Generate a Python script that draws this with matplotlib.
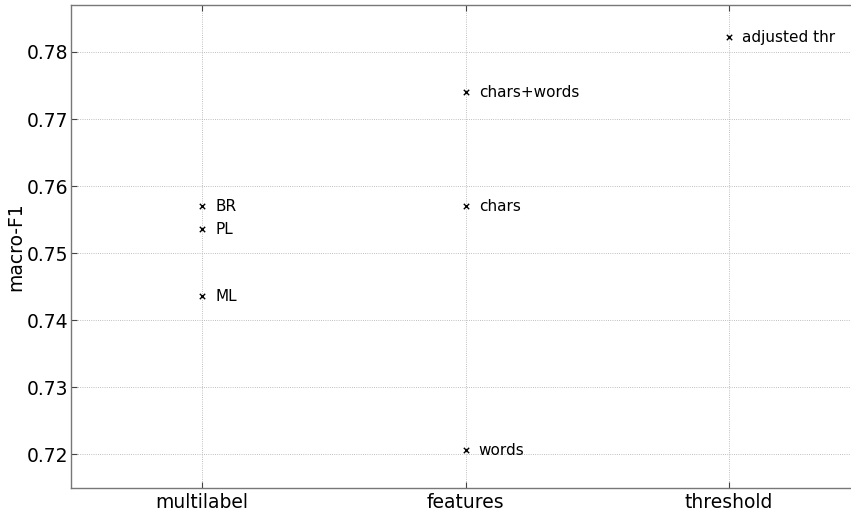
import matplotlib
matplotlib.use('Agg')
from matplotlib import pyplot as plt

# experiment groups on the x axis
groups = ['multilabel', 'features', 'threshold']

# (group, label, macro-F1) for every run
run_groups = ['multilabel', 'multilabel', 'multilabel',
              'features', 'features', 'features',
              'threshold']
run_labels = ['BR', 'PL', 'ML', 'chars+words', 'chars', 'words', 'adjusted thr']
run_scores = [0.757, 0.7536, 0.7436, 0.774, 0.757, 0.7206, 0.7822]


def main():
    fig = plt.figure(figsize=(8.51, 5.11), dpi=100)
    ax = fig.add_axes([70.5 / 851, 23 / 511, 790 / 851, 483 / 511])

    xs = [groups.index(g) for g in run_groups]
    ax.scatter(xs, run_scores, marker='x', s=15, c='black', linewidths=1.0, zorder=3)
    for x, y, name in zip(xs, run_scores, run_labels):
        ax.annotate(name, (x, y), xytext=(9.5, 0), textcoords='offset points',
                    va='center', ha='left', fontsize=11)

    ax.set_xlim(-0.5, 2.5)
    ax.set_ylim(0.715, 0.787)
    ax.set_xticks(range(len(groups)))
    ax.set_xticklabels(groups)
    ax.set_yticks([0.72, 0.73, 0.74, 0.75, 0.76, 0.77, 0.78])
    ax.set_ylabel('macro-F1', fontsize=13.5, labelpad=1)

    ax.tick_params(direction='in', length=4, top=True, right=True, labelsize=13.5,
                   color='#444444')
    ax.tick_params(axis='y', pad=1.5)
    ax.grid(True, linestyle=':', color='#aaaaaa', linewidth=0.6)
    for side in ax.spines.values():
        side.set_color('#777777')
        side.set_linewidth(1.0)

    fig.savefig('out.png', dpi=100)


if __name__ == '__main__':
    main()
